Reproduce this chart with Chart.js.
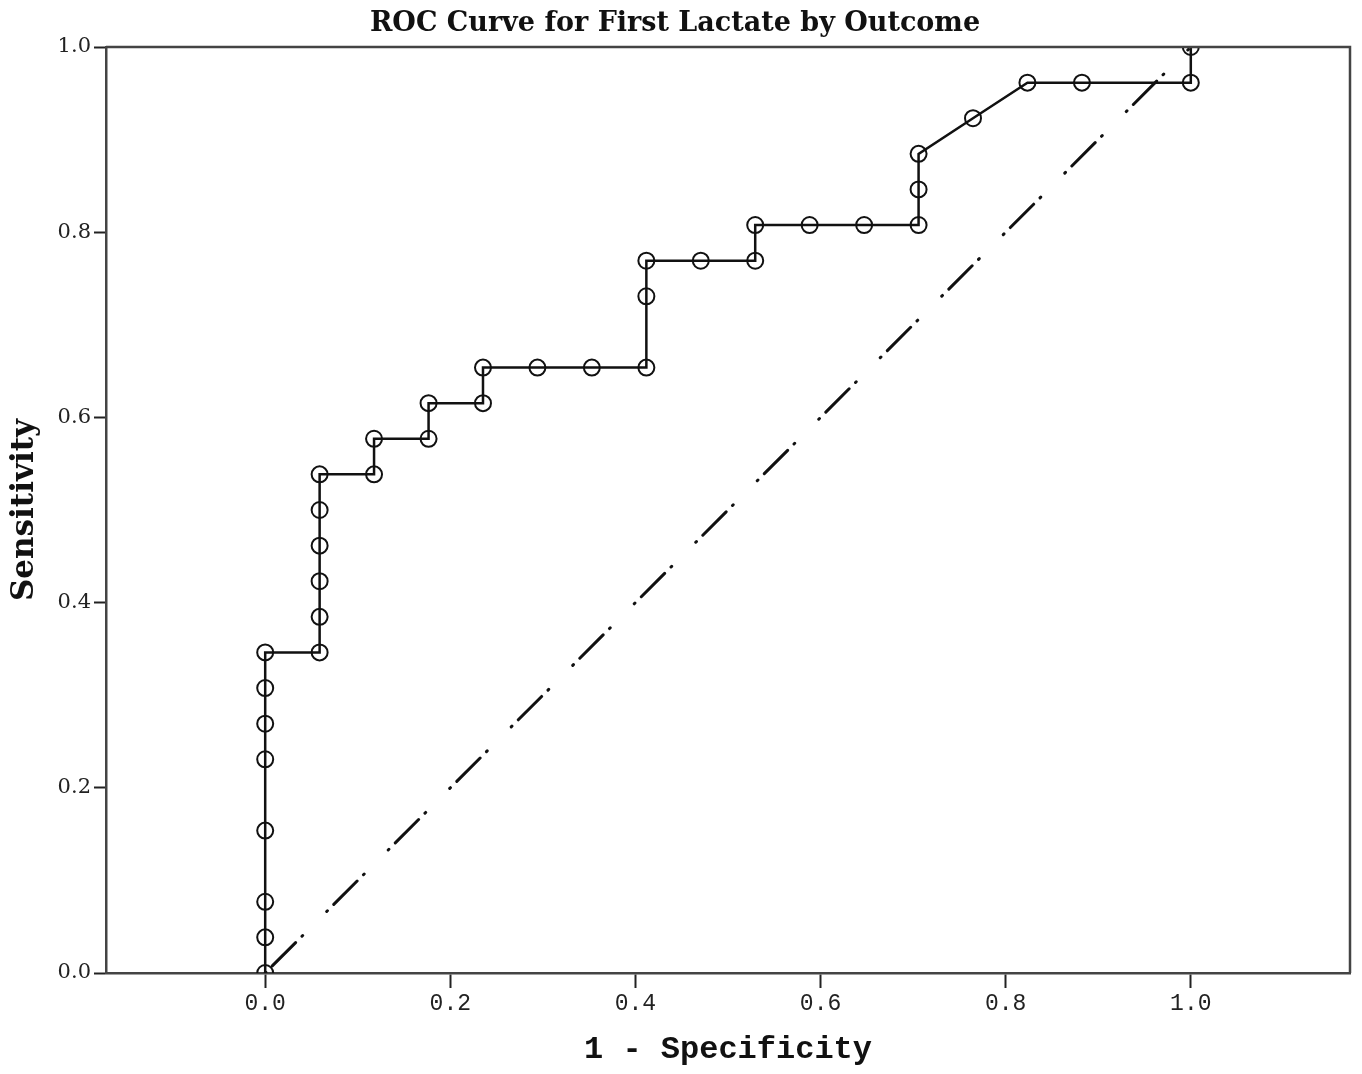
<!DOCTYPE html>
<html>
<head>
<meta charset="utf-8">
<script src="https://cdn.jsdelivr.net/npm/chart.js@4/dist/chart.umd.min.js"></script>
<style>
  html, body { margin: 0; padding: 0; background: #fff; }
  #wrap { width: 1362px; height: 1074px; }
</style>
</head>
<body>
<div id="wrap"><canvas id="roc"></canvas></div>
<script>
// ROC points: 1 - specificity (x) and sensitivity (y)
const fpr = [0, 0, 0, 0, 0, 0, 0, 0,
  0.0588, 0.0588, 0.0588, 0.0588, 0.0588, 0.0588,
  0.1176, 0.1176, 0.1765, 0.1765, 0.2353, 0.2353,
  0.2941, 0.3529, 0.4118, 0.4118, 0.4118, 0.4706,
  0.5294, 0.5294, 0.5882, 0.6471, 0.7059, 0.7059, 0.7059,
  0.7647, 0.8235, 0.8824, 1.0, 1.0]
const tpr = [0, 0.0385, 0.0769, 0.1538, 0.2308, 0.2692, 0.3077, 0.3462,
  0.3462, 0.3846, 0.4231, 0.4615, 0.5, 0.5385,
  0.5385, 0.5769, 0.5769, 0.6154, 0.6154, 0.6538,
  0.6538, 0.6538, 0.6538, 0.7308, 0.7692, 0.7692,
  0.7692, 0.8077, 0.8077, 0.8077, 0.8077, 0.8462, 0.8846,
  0.9231, 0.9615, 0.9615, 0.9615, 1.0]
const refLine = [0, 1]
const xTicks = [0, 0.2, 0.4, 0.6, 0.8, 1.0]
const yTicks = [0, 0.2, 0.4, 0.6, 0.8, 1.0]

const rocPoints = fpr.map((x, i) => ({ x: x, y: tpr[i] }))
const refPoints = refLine.map(v => ({ x: v, y: v }))

// box around the plot area (top and right sides)
const frame = {
  id: 'frame',
  afterDraw(chart) {
    const { ctx, chartArea: a } = chart
    ctx.save()
    ctx.strokeStyle = '#444'
    ctx.lineWidth = 2.5
    ctx.beginPath()
    ctx.moveTo(a.left, a.top)
    ctx.lineTo(a.right, a.top)
    ctx.lineTo(a.right, a.bottom)
    ctx.stroke()
    ctx.restore()
  }
}

new Chart(document.getElementById('roc'), {
  type: 'scatter',
  data: {
    datasets: [
      {
        data: rocPoints,
        showLine: true,
        borderColor: '#111',
        borderWidth: 2.5,
        pointRadius: 8,
        pointBorderWidth: 2,
        pointBorderColor: '#111',
        pointBackgroundColor: 'rgba(0,0,0,0)',
        clip: 0
      },
      {
        data: refPoints,
        showLine: true,
        borderColor: '#111',
        borderWidth: 3,
        borderCapStyle: 'round',
        borderDash: [1, 9, 33, 9, 1, 34],
        pointRadius: 0,
        clip: 0
      }
    ]
  },
  options: {
    responsive: true,
    maintainAspectRatio: false,
    animation: false,
    layout: { padding: { left: 0, right: 12, top: 0, bottom: 0 } },
    plugins: {
      legend: { display: false },
      tooltip: { enabled: false },
      title: {
        display: true,
        text: 'ROC Curve for First Lactate by Outcome',
        color: '#111',
        font: { family: 'DejaVu Serif', size: 27, weight: 'bold', lineHeight: 1.2 },
        padding: { top: 8, bottom: 6.6 }
      }
    },
    scales: {
      x: {
        type: 'linear',
        min: -0.172,
        max: 1.172,
        afterBuildTicks: s => { s.ticks = xTicks.map(v => ({ value: v })) },
        afterFit: s => { s.height = 101 },
        grid: { drawOnChartArea: false, tickLength: 15, tickColor: '#222', tickWidth: 2 },
        border: { color: '#444', width: 2.5 },
        ticks: {
          color: '#222',
          padding: 2,
          font: { family: 'Liberation Mono', size: 23 },
          callback: v => v.toFixed(1)
        },
        title: {
          display: true,
          text: '1 - Specificity',
          color: '#111',
          font: { family: 'Liberation Mono', size: 32, weight: 'bold', lineHeight: 1.2 },
          padding: { top: 0, bottom: 5 }
        }
      },
      y: {
        type: 'linear',
        min: 0,
        max: 1,
        afterBuildTicks: s => { s.ticks = yTicks.map(v => ({ value: v })) },
        afterFit: s => { s.width = 106 },
        grid: { drawOnChartArea: false, tickLength: 12, tickColor: '#222', tickWidth: 2 },
        border: { color: '#444', width: 2.5 },
        ticks: {
          color: '#222',
          padding: 3,
          font: { family: 'DejaVu Serif', size: 21 },
          callback: v => v.toFixed(1)
        },
        title: {
          display: true,
          text: 'Sensitivity',
          color: '#111',
          font: { family: 'DejaVu Serif', size: 31, weight: 'bold', lineHeight: 1.2 },
          padding: { top: 6, bottom: 0 }
        }
      }
    }
  },
  plugins: [frame]
})
</script>
</body>
</html>
